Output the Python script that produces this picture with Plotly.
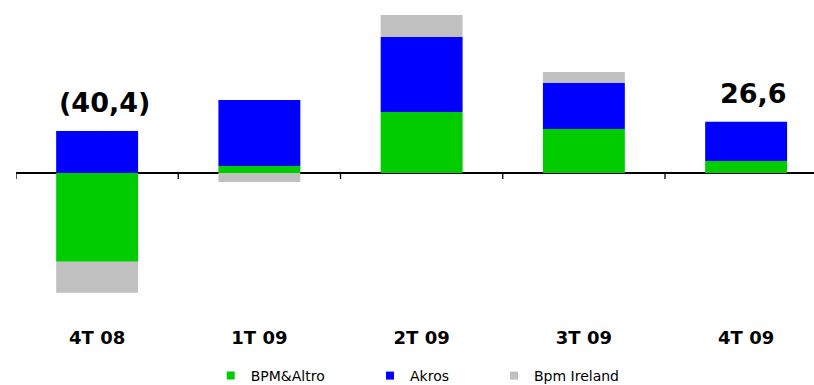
import plotly.graph_objects as go

# Quarterly contributions by business line
quarters = ["4T 08", "1T 09", "2T 09", "3T 09", "4T 09"]
bpm_altro = [-46.2, 3.6, 31.7, 22.9, 6.2]
akros = [21.9, 34.3, 39.0, 23.9, 20.4]
bpm_ireland = [-16.1, -4.7, 11.4, 5.7, 0.0]
labelled_quarters = ["4T 08", "4T 09"]

series = [
    ("BPM&Altro", bpm_altro, "#00CC00"),
    ("Akros", akros, "#0000FF"),
    ("Bpm Ireland", bpm_ireland, "#C0C0C0"),
]

W, H = 814, 385
M_L, M_R, M_T, M_B = 16, 0, 0, 60
PLOT_W = W - M_L - M_R
PLOT_H = H - M_T - M_B
ZERO_PX = 173          # distance of the zero line from the plot top
UNITS_PER_PX = 0.52    # vertical scale
CAT_PX = 162.25        # width of one category slot

FONT = "DejaVu Sans, Verdana, sans-serif"


def fmt_total(v):
    s = f"{abs(v):.1f}".replace(".", ",")
    return f"({s})" if v < 0 else s


fig = go.Figure()
for name, vals, col in series:
    fig.add_trace(go.Bar(
        x=quarters, y=vals, name=name, marker=dict(color=col, line=dict(width=0)),
        width=0.505, showlegend=False, hoverinfo="skip",
    ))

# Legend entries (small square swatches), one legend box per series
legend_x = [0.244, 0.4436, 0.599]
for i, (name, vals, col) in enumerate(series):
    key = "legend" if i == 0 else f"legend{i + 1}"
    fig.add_trace(go.Scatter(
        x=[None], y=[None], mode="markers", name=name,
        marker=dict(symbol="square", size=8, color=col),
        legend=key, showlegend=True,
    ))

legend_y = -(376 - PLOT_H) / PLOT_H
legend_common = dict(
    orientation="h", yanchor="middle", y=legend_y, xanchor="left",
    font=dict(family=FONT, size=14, color="#000000"),
    bgcolor="rgba(0,0,0,0)", itemwidth=30,
)
fig.update_layout(
    legend=dict(x=legend_x[0], **legend_common),
    legend2=dict(x=legend_x[1], **legend_common),
    legend3=dict(x=legend_x[2], **legend_common),
)

# Total labels above the positive stack
for q in labelled_quarters:
    i = quarters.index(q)
    total = bpm_altro[i] + akros[i] + bpm_ireland[i]
    top = sum(v[i] for _, v, _ in series if v[i] > 0)
    fig.add_annotation(
        x=q, y=top, text=fmt_total(total), showarrow=False,
        yanchor="bottom", yshift=11, xshift=7,
        font=dict(family=FONT, size=27, color="#000000", weight="bold"),
    )

# Tick marks at the category boundaries along the zero line
for i in range(len(quarters) + 1):
    fig.add_shape(
        type="line", xref="x", yref="y", ysizemode="pixel", yanchor=0,
        x0=i - 0.5, x1=i - 0.5, y0=0, y1=-6,
        line=dict(color="#000000", width=1.3),
    )

y_top = ZERO_PX * UNITS_PER_PX
y_bot = -(PLOT_H - ZERO_PX) * UNITS_PER_PX

fig.update_layout(
    width=W, height=H,
    margin=dict(l=M_L, r=M_R, t=M_T, b=M_B, pad=0, autoexpand=False),
    paper_bgcolor="white", plot_bgcolor="white",
    barmode="relative",
    xaxis=dict(
        type="category", range=[-0.5, -0.5 + PLOT_W / CAT_PX],
        showgrid=False, zeroline=False, showline=False, ticks="",
        tickfont=dict(family=FONT, size=18, color="#000000", weight="bold"),
        fixedrange=True,
    ),
    yaxis=dict(
        range=[y_bot, y_top], showgrid=False, showticklabels=False,
        zeroline=True, zerolinecolor="#000000", zerolinewidth=1.6,
        showline=False, ticks="", fixedrange=True,
    ),
    showlegend=True,
)

fig.write_html("out.html")
